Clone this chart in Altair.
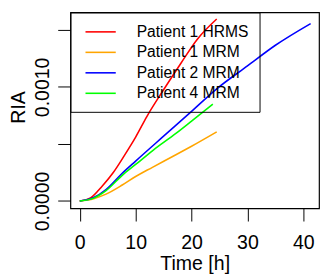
import altair as alt
import pandas as pd

series_names = ["Patient 1 HRMS", "Patient 1 MRM", "Patient 2 MRM", "Patient 4 MRM"]
series_colors = ["#FF0000", "#FFA500", "#0000FF", "#00FF00"]

t_p1_hrms = [0, 2, 4, 6, 8, 10, 12, 15.2, 18.1, 21.0, 24.5]
v_p1_hrms = [0, 0.00003, 0.00013, 0.00025, 0.0004, 0.00056, 0.00074, 0.00099, 0.001207, 0.001416, 0.001595]

t_p1_mrm = [0, 2.5, 4.7, 7.6, 10.0, 13.0, 17.2, 20.0, 24.5]
v_p1_mrm = [0, 0.00002, 0.00006, 0.00014, 0.000215, 0.000295, 0.000405, 0.00048, 0.000606]

t_p2_mrm = [0, 2.5, 4.7, 7.6, 10.0, 15.0, 20.0, 24.5, 30.0, 35.0, 41.3]
v_p2_mrm = [0, 0.00003, 0.0001, 0.000243, 0.00035, 0.000568, 0.000785, 0.000983, 0.001184, 0.001365, 0.001555]

t_p4_mrm = [0, 2.5, 4.7, 7.6, 10.0, 13.0, 17.2, 20.0, 23.8]
v_p4_mrm = [0, 0.000025, 0.00009, 0.000225, 0.00032, 0.00044, 0.000592, 0.0007, 0.000849]

x_ticks = [0, 10, 20, 30, 40]
y_ticks = [0, 0.0005, 0.001, 0.0015]

rows = []
for name, ts, vs in zip(series_names,
                        [t_p1_hrms, t_p1_mrm, t_p2_mrm, t_p4_mrm],
                        [v_p1_hrms, v_p1_mrm, v_p2_mrm, v_p4_mrm]):
    for t, v in zip(ts, vs):
        rows.append({"time": t, "ria": v, "series": name})
df = pd.DataFrame(rows)

FONT = "Liberation Sans"

chart = alt.Chart(df).mark_line(strokeWidth=1.6, interpolate="monotone", clip=True).encode(
    x=alt.X("time:Q",
            scale=alt.Scale(domain=[-1.67, 42.8], nice=False, zero=False),
            axis=alt.Axis(values=x_ticks, title="Time [h]", domain=False, grid=False,
                          tickSize=13, tickColor="black", tickWidth=1,
                          labelFont=FONT, labelFontSize=20, labelColor="black",
                          labelPadding=12, labelFlush=False,
                          titleFont=FONT, titleFontSize=20, titleFontWeight="normal",
                          titleColor="black", titleBaseline="alphabetic", titleY=63)),
    y=alt.Y("ria:Q",
            scale=alt.Scale(domain=[-0.0000645, 0.001653], nice=False, zero=False),
            axis=alt.Axis(values=y_ticks, title="RIA", domain=False, grid=False,
                          tickSize=13, tickColor="black", tickWidth=1,
                          labelExpr="(datum.value == 0 || abs(datum.value - 0.001) < 1e-9) ? format(datum.value, '.4f') : ''",
                          labelAngle=270, labelAlign="center", labelBaseline="alphabetic",
                          labelFont=FONT, labelFontSize=20, labelColor="black",
                          labelPadding=9, labelFlush=False, labelOverlap=False,
                          titleFont=FONT, titleFontSize=20, titleFontWeight="normal",
                          titleColor="black", titleAngle=270, titleAlign="center",
                          titleBaseline="alphabetic", titleX=-47.5, titleY=97)),
    color=alt.Color("series:N",
                    scale=alt.Scale(domain=series_names, range=series_colors),
                    legend=alt.Legend(title=None, orient="top-left", offset=0,
                                      strokeColor="black",
                                      padding=11, symbolType="M-1.94,0H1.94",
                                      symbolSize=256, symbolStrokeWidth=1.6,
                                      symbolOffset=11, labelOffset=28,
                                      labelFont=FONT, labelFontSize=16,
                                      labelColor="black", rowPadding=4)),
).properties(
    width=255, height=201,
    padding={"left": 64, "top": 1, "right": 1, "bottom": 70},
    autosize="none",
).configure_view(stroke="black", strokeWidth=1.2)

chart.save("out.html", embed_options={"renderer": "svg", "actions": False})
